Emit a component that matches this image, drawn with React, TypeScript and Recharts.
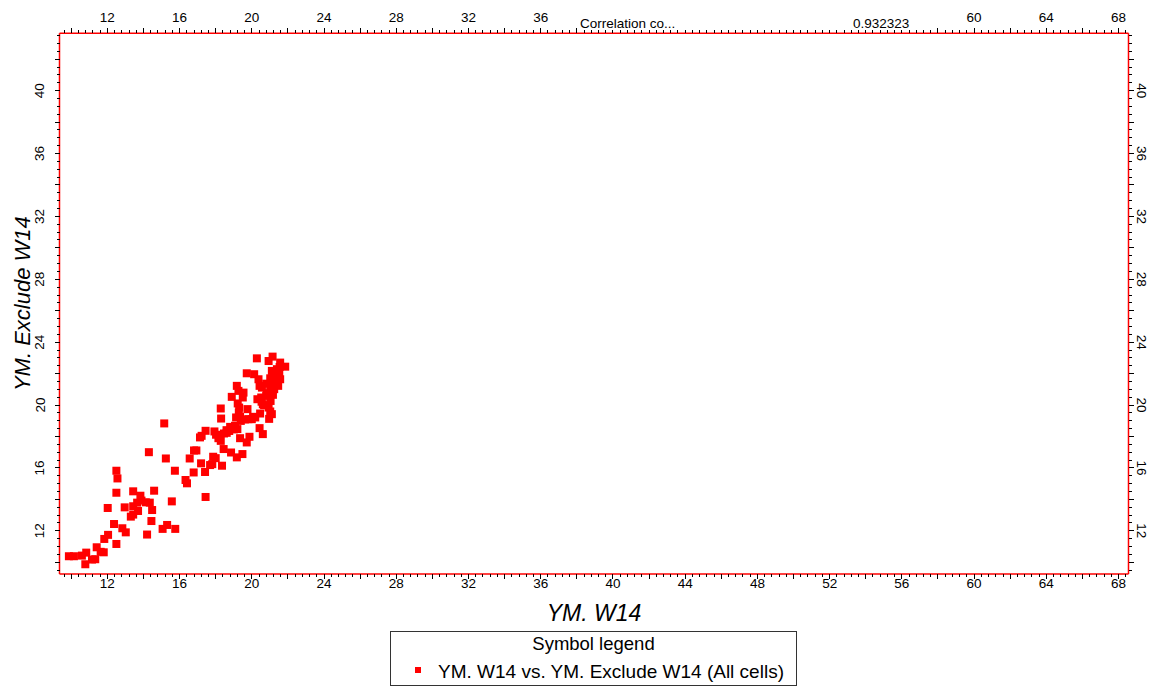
import React from 'react';
import { ScatterChart, Scatter, XAxis, YAxis } from 'recharts';

// ---- Data ----
const xValues = [
  9.87, 10.15, 10.59, 10.83, 10.78, 11.15, 11.33, 11.41, 11.63, 11.8,
  11.83, 12.04, 12.5, 12.37, 12.02, 12.5, 12.56, 12.5, 12.83, 13.02,
  13.3, 13.43, 12.96, 13.43, 13.7, 13.43, 13.83, 13.89, 13.65, 14.13,
  14.35, 14.48, 14.44, 14.2, 14.59, 14.3, 15.15, 15.24, 15.74, 15.57,
  15.06, 15.31, 15.76, 16.33, 16.41, 16.56, 16.8, 16.93, 16.78, 17.19,
  17.13, 17.22, 17.44, 17.41, 17.44, 17.69, 17.81, 18.0, 18.35, 18.44,
  17.93, 18.02, 18.15, 18.28, 18.24, 18.46, 18.61, 18.28, 18.3, 18.89,
  18.8, 18.94, 19.07, 19.2, 18.85, 19.17, 19.48, 19.35, 19.87, 19.72,
  19.17, 19.26, 19.22, 19.3, 19.28, 19.35, 19.39, 19.13, 19.54, 19.5,
  19.72, 19.81, 20.0, 20.19, 19.76, 20.28, 20.13, 20.37, 20.43, 20.56,
  20.46, 20.43, 20.61, 20.31, 20.52, 20.61, 20.8, 20.93, 21.06, 20.93,
  21.02, 21.11, 20.96, 20.93, 21.15, 21.11, 21.24, 21.39, 21.54, 21.57,
  21.85, 21.02, 21.2, 21.35, 21.52, 21.57, 21.43, 21.17, 21.02, 21.24,
  21.46, 21.3, 20.8, 21.04, 21.17, 19.61, 20.07, 20.68, 20.54, 20.82,
  18.6, 18.75, 19.0, 17.86,
];
const yValues = [
  10.38, 10.38, 10.42, 10.61, 9.87, 10.17, 10.19, 10.95, 10.66, 10.63,
  11.48, 11.74, 11.16, 12.43, 13.45, 14.42, 15.33, 15.82, 12.16, 11.9,
  12.9, 13.03, 13.49, 13.56, 13.26, 14.51, 14.23, 13.92, 13.79, 13.81,
  13.79, 13.32, 12.62, 11.76, 14.55, 17.0, 18.83, 16.6, 15.82, 13.87,
  12.12, 12.37, 12.12, 15.23, 15.02, 16.6, 17.11, 17.11, 15.71, 16.29,
  17.94, 18.04, 18.36, 15.74, 14.15, 16.18, 16.24, 16.62, 16.14, 17.2,
  18.32, 18.11, 17.89, 17.72, 18.08, 18.19, 18.23, 19.78, 19.14, 20.52,
  18.61, 18.53, 18.68, 18.47, 16.98, 16.67, 16.88, 17.89, 17.98, 17.62,
  21.22, 20.9, 20.1, 19.84, 19.52, 19.25, 18.99, 19.21, 20.79, 20.48,
  22.02, 19.1, 19.1, 19.21, 19.74, 22.97, 21.96, 21.64, 21.22, 21.11,
  19.46, 18.53, 18.15, 20.37, 20.48, 20.05, 20.58, 20.73, 20.69, 19.84,
  19.59, 19.42, 19.12, 22.8, 23.08, 22.17, 22.02, 22.28, 22.42, 22.7,
  22.44, 21.7, 21.49, 21.81, 21.96, 21.64, 21.32, 21.32, 21.11, 21.01,
  21.22, 22.06, 21.36, 20.26, 20.65, 19.08, 19.25, 19.99, 20.21, 20.74,
  18.4, 18.35, 18.45, 16.71,
];

const xTickLabels = [12, 16, 20, 24, 28, 32, 36, 40, 44, 48, 52, 56, 60, 64, 68];
const topTickLabels = [12, 16, 20, 24, 28, 32, 36, 60, 64, 68];
const yTickLabels = [12, 16, 20, 24, 28, 32, 36, 40];

const seriesName = 'YM. W14 vs. YM. Exclude W14 (All cells)';
const xTitle = 'YM. W14';
const yTitle = 'YM. Exclude W14';
const corrLabel = 'Correlation co...';
const corrValue = '0.932323';

const xDomain: [number, number] = [9.35, 68.55];
const yDomain: [number, number] = [9.25, 43.65];

const data = xValues.map((x, i) => ({ x, y: yValues[i] }));

// minor tick positions (every 0.4 on x, every 0.5 on y)
const xMinorTicks: number[] = [];
for (let k = 24; k <= 171; k++) xMinorTicks.push(Math.round(k * 4) / 10);
const yMinorTicks: number[] = [];
for (let k = 19; k <= 87; k++) yMinorTicks.push(k / 2);

const FONT = '"Liberation Sans", Arial, sans-serif';
const TICK_FS = 13.5;

const near = (v: number, step: number) => Math.abs(v / step - Math.round(v / step)) < 1e-6;
const hasLabel = (arr: number[], v: number) => arr.some((a) => Math.abs(a - v) < 1e-6);

const BottomTick = (props: any) => {
  const { x, y, payload } = props;
  const v = payload.value;
  const major = near(v, 2);
  return (
    <g>
      <line x1={x} x2={x} y1={y} y2={y + (major ? 5 : 3)} stroke="#000" strokeWidth={1} shapeRendering="crispEdges" />
      {hasLabel(xTickLabels, v) && (
        <text x={x} y={y + 14} textAnchor="middle" fontSize={TICK_FS} fontFamily={FONT} fill="#000">
          {v}
        </text>
      )}
    </g>
  );
};

const TopTick = (props: any) => {
  const { x, y, payload } = props;
  const v = payload.value;
  const inLabeled = v <= 38.1 || v >= 57.9;
  const major = near(v, 2) && inLabeled;
  return (
    <g>
      <line x1={x} x2={x} y1={y} y2={y - (major ? 5 : 3)} stroke="#000" strokeWidth={1} shapeRendering="crispEdges" />
      {hasLabel(topTickLabels, v) && (
        <text x={x} y={y - 11.5} textAnchor="middle" fontSize={TICK_FS} fontFamily={FONT} fill="#000">
          {v}
        </text>
      )}
    </g>
  );
};

const LeftTick = (props: any) => {
  const { x, y, payload } = props;
  const v = payload.value;
  const major = near(v, 2);
  const bx = x - 15;
  return (
    <g>
      <line x1={x - (major ? 5 : 3)} x2={x} y1={y} y2={y} stroke="#000" strokeWidth={1} shapeRendering="crispEdges" />
      {hasLabel(yTickLabels, v) && (
        <text x={bx} y={y} transform={`rotate(-90, ${bx}, ${y})`} textAnchor="middle" fontSize={TICK_FS} fontFamily={FONT} fill="#000">
          {v}
        </text>
      )}
    </g>
  );
};

const RightTick = (props: any) => {
  const { x, y, payload } = props;
  const v = payload.value;
  const major = near(v, 2);
  const bx = x + 8;
  return (
    <g>
      <line x1={x} x2={x + (major ? 5 : 3)} y1={y} y2={y} stroke="#000" strokeWidth={1} shapeRendering="crispEdges" />
      {hasLabel(yTickLabels, v) && (
        <text x={bx} y={y} transform={`rotate(90, ${bx}, ${y})`} textAnchor="middle" fontSize={TICK_FS} fontFamily={FONT} fill="#000">
          {v}
        </text>
      )}
    </g>
  );
};

const XTitle = (props: any) => {
  const vb = props.viewBox || { x: 0, width: 0 };
  return (
    <text x={vb.x + vb.width / 2} y={621} textAnchor="middle" fontSize={23} fontStyle="italic" fontFamily={FONT} fill="#000">
      {xTitle}
    </text>
  );
};

const YTitle = (props: any) => {
  const vb = props.viewBox || { y: 0, height: 0 };
  const cy = vb.y + vb.height / 2;
  return (
    <text x={30} y={cy} transform={`rotate(-90, 30, ${cy})`} textAnchor="middle" fontSize={22} fontStyle="italic" fontFamily={FONT} fill="#000">
      {yTitle}
    </text>
  );
};

const TopText = () => (
  <g>
    <text x={580} y={28} fontSize={TICK_FS} fontFamily={FONT} fill="#000">{corrLabel}</text>
    <text x={853} y={28} fontSize={TICK_FS} fontFamily={FONT} fill="#000">{corrValue}</text>
  </g>
);

const SquareShape = (props: any) => {
  const { cx, cy } = props;
  if (cx == null || cy == null) return null;
  return <rect x={cx - 4} y={cy - 4} width={8} height={8} fill="#ff0000" />;
};

const axisLine = { stroke: '#ff0000', strokeWidth: 1.5 };

export default function App() {
  return (
    <div style={{ position: 'absolute', left: 0, top: 0, width: 1153, height: 688, background: '#fff' }}>
      <ScatterChart
        width={1153}
        height={688}
        margin={{ top: 13.3, right: 4.5, bottom: 74, left: 19.5 }}
      >
        <XAxis
          xAxisId="x"
          dataKey="x"
          type="number"
          domain={xDomain}
          allowDataOverflow
          ticks={xMinorTicks}
          interval={0}
          tickSize={0}
          tickMargin={0}
          tickLine={false}
          tick={<BottomTick />}
          axisLine={axisLine}
          height={40}
          orientation="bottom"
          label={<XTitle />}
        />
        <XAxis
          xAxisId="xt"
          dataKey="x"
          type="number"
          domain={xDomain}
          allowDataOverflow
          ticks={xMinorTicks}
          interval={0}
          tickSize={0}
          tickMargin={0}
          tickLine={false}
          tick={<TopTick />}
          axisLine={axisLine}
          height={20}
          orientation="top"
          label={<TopText />}
        />
        <YAxis
          yAxisId="y"
          dataKey="y"
          type="number"
          domain={yDomain}
          allowDataOverflow
          ticks={yMinorTicks}
          interval={0}
          tickSize={0}
          tickMargin={0}
          tickLine={false}
          tick={<LeftTick />}
          axisLine={axisLine}
          width={40}
          orientation="left"
          label={<YTitle />}
        />
        <YAxis
          yAxisId="yr"
          dataKey="y"
          type="number"
          domain={yDomain}
          allowDataOverflow
          ticks={yMinorTicks}
          interval={0}
          tickSize={0}
          tickMargin={0}
          tickLine={false}
          tick={<RightTick />}
          axisLine={axisLine}
          width={20}
          orientation="right"
        />
        <Scatter
          name={seriesName}
          data={data}
          xAxisId="x"
          yAxisId="y"
          fill="#ff0000"
          shape={<SquareShape />}
          isAnimationActive={false}
        />
        <Scatter
          data={data}
          xAxisId="xt"
          yAxisId="yr"
          fill="none"
          shape={() => null}
          isAnimationActive={false}
        />
      </ScatterChart>
      <div
        style={{
          position: 'absolute',
          left: 390,
          top: 631,
          width: 407,
          height: 55,
          border: '1px solid #333',
          boxSizing: 'border-box',
          fontFamily: FONT,
          color: '#000',
          background: '#fff',
        }}
      >
        <div style={{ position: 'absolute', left: 0, right: 0, top: 1, textAlign: 'center', fontSize: 18.5, lineHeight: '22px' }}>
          Symbol legend
        </div>
        <div style={{ position: 'absolute', left: 24, top: 35, width: 6, height: 6, background: '#ff0000' }} />
        <div style={{ position: 'absolute', left: 47, top: 29, fontSize: 19, lineHeight: '22px', whiteSpace: 'nowrap' }}>
          {seriesName}
        </div>
      </div>
    </div>
  );
}
